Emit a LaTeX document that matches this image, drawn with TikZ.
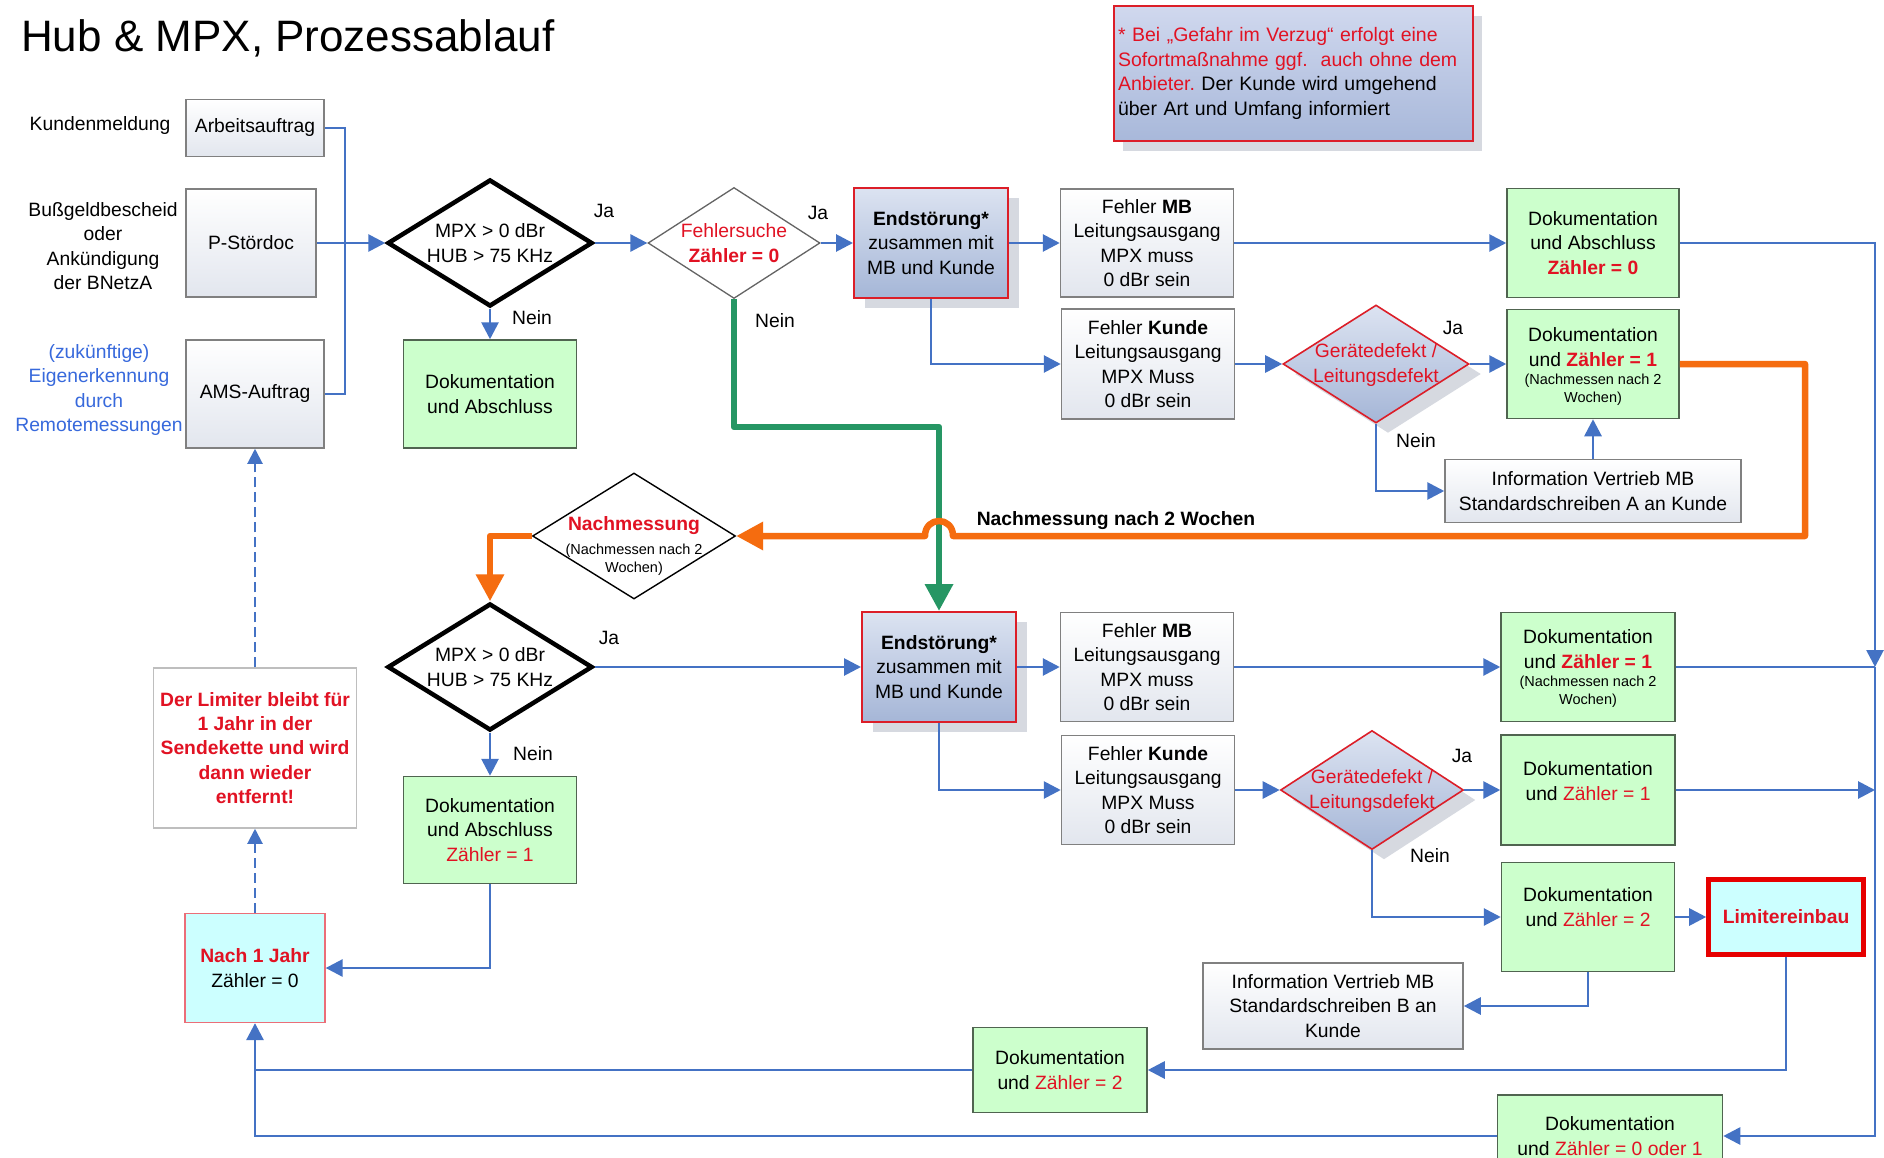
\documentclass[tikz,border=0pt]{standalone}
\usepackage{fontspec}
\setmainfont{Liberation Sans}
\usetikzlibrary{arrows.meta,shapes.geometric,shadows}
\frenchspacing
\definecolor{lblue}{RGB}{68,114,196}
\definecolor{lgreen}{RGB}{38,150,100}
\definecolor{lorange}{RGB}{245,108,15}
\definecolor{tred}{RGB}{225,18,35}
\definecolor{ered}{RGB}{220,30,40}
\definecolor{limred}{RGB}{230,0,0}
\definecolor{tblue}{RGB}{55,105,220}
\definecolor{gfill}{RGB}{204,255,204}
\definecolor{gdraw}{RGB}{80,100,80}
\definecolor{wdraw}{RGB}{128,128,128}
\definecolor{whitebot}{RGB}{226,230,238}
\definecolor{cfill}{RGB}{204,255,255}
\definecolor{bluetop}{RGB}{220,227,241}
\definecolor{bluebot}{RGB}{165,182,215}
\definecolor{nbtop}{RGB}{208,216,238}
\definecolor{nbbot}{RGB}{168,184,218}
\definecolor{shcol}{RGB}{214,217,224}
\definecolor{lgray}{RGB}{190,190,190}
\definecolor{pinkred}{RGB}{235,110,120}
\definecolor{dgray}{RGB}{100,100,100}
\begin{document}
\begin{tikzpicture}[x=1pt,y=-1pt,
  txt/.style={font=\fontsize{19.3}{24.4}\selectfont},
  smtxt/.style={font=\fontsize{14.5}{18.3}\selectfont},
  bftxt/.style={font=\fontsize{19.3}{24.4}\selectfont\bfseries},
  wbox/.style={draw=wdraw, line width=1.5pt, top color=white, bottom color=whitebot, inner sep=3pt, align=center, txt},
  gbox/.style={draw=gdraw, line width=1.5pt, fill=gfill, inner sep=3pt, align=center, txt},
  ebox/.style={draw=ered, line width=2pt, top color=bluetop, bottom color=bluebot, inner sep=3pt, align=center, txt, drop shadow={shadow xshift=11pt, shadow yshift=-10pt, fill=shcol, opacity=1}},
  dthick/.style={diamond, draw=black, line width=4.5pt, fill=white, inner sep=0pt},
  dthin/.style={diamond, draw=black, line width=1.4pt, fill=white, inner sep=0pt},
  dred/.style={diamond, draw=ered, line width=1.6pt, top color=bluetop, bottom color=bluebot, inner sep=0pt, drop shadow={shadow xshift=12pt, shadow yshift=-10pt, fill=shcol, opacity=1}},
  ln/.style={draw=lblue, line width=2.8pt},
  arr/.style={ln, -{Triangle[length=17pt,width=17pt]}},
  dsh/.style={draw=lblue, line width=2pt, dash pattern=on 10pt off 5pt, -{Triangle[length=15pt,width=15pt]}},
  oarr/.style={draw=lorange, line width=6.5pt, line join=round, -{Triangle[length=27pt,width=27pt]}},
  garr/.style={draw=lgreen, line width=6.5pt, line join=round, -{Triangle[length=27pt,width=27pt]}},
  lab/.style={txt, inner sep=0pt},
]
\useasboundingbox (0,0) rectangle (1884,1158);
\clip (0,0) rectangle (1884,1158);
\fill[white] (0,0) rectangle (1884,1158);

% title and note
\node[anchor=base west, inner sep=0pt, font=\fontsize{44}{53}\selectfont] (title) at (21,52) {Hub \& MPX, Prozessablauf};
\node[draw=ered, line width=2.4pt, top color=nbtop, bottom color=nbbot, minimum width=359pt, minimum height=135pt, text width=351pt, inner xsep=4pt, inner ysep=2pt, align=left, font=\fontsize{19.5}{24.4}\selectfont, drop shadow={shadow xshift=9pt, shadow yshift=-10pt, fill=shcol, opacity=1}] (note) at (1293.5,73.5) {\textcolor{tred}{* Bei „Gefahr im Verzug“ erfolgt eine}\\ \textcolor{tred}{Sofortmaßnahme ggf.\ \ auch ohne dem}\\ \textcolor{tred}{Anbieter.} Der Kunde wird umgehend\\ über Art und Umfang informiert};

% left inputs
\node[txt] (lk) at (100,126) {Kundenmeldung};
\node[txt, align=center] (lb) at (103,246) {Bußgeldbescheid\\oder\\Ankündigung\\der BNetzA};
\node[txt, align=center, text=tblue] (lz) at (99,390) {(zukünftige)\\Eigenerkennung\\durch\\Remotemessungen};
\node[wbox, minimum width=138pt, minimum height=57pt] (arb) at (255,128) {Arbeitsauftrag};
\node[wbox, minimum width=130pt, minimum height=108pt] (pst) at (251,243) {P-Stördoc};
\node[wbox, minimum width=138pt, minimum height=108pt] (ams) at (255,394) {AMS-Auftrag};

% row 1
\node[dthick, minimum width=205pt, minimum height=127pt] (d1) at (490,243) {};
\node[txt, align=center] (d1t) at (490,243) {MPX > 0 dBr\\HUB > 75 KHz};
\node[gbox, minimum width=173pt, minimum height=108pt] (dl1) at (490,394) {Dokumentation\\und Abschluss};
\node[diamond, draw=dgray, line width=1.3pt, fill=white, inner sep=0pt, minimum width=172pt, minimum height=111pt] (d2) at (734,243) {};
\node[txt, align=center, text=tred] (d2t) at (734,243) {Fehlersuche\\\textbf{Zähler = 0}};
\node[ebox, minimum width=154pt, minimum height=110pt] (e1) at (931,243) {\textbf{Endstörung*}\\zusammen mit\\MB und Kunde};
\node[wbox, minimum width=173pt, minimum height=108pt] (fm1) at (1147,243) {Fehler \textbf{MB}\\Leitungsausgang\\MPX muss\\0 dBr sein};
\node[wbox, minimum width=173pt, minimum height=110pt] (fk1) at (1148,364) {Fehler \textbf{Kunde}\\Leitungsausgang\\MPX Muss\\0 dBr sein};
\node[dred, minimum width=186pt, minimum height=118pt] (g1) at (1376,364) {};
\node[txt, align=center, text=tred] (g1t) at (1376,365) {Gerätedefekt /\\Leitungsdefekt};
\node[gbox, minimum width=172pt, minimum height=109pt] (dk0) at (1593,243) {Dokumentation\\und Abschluss\\\textcolor{tred}{\textbf{Zähler = 0}}};
\node[gbox, minimum width=172pt, minimum height=109pt] (dz1a) at (1593,364) {};
\node[txt, align=center] (dz1at) at (1593,347) {Dokumentation\\und \textcolor{tred}{\textbf{Zähler = 1}}};
\node[smtxt, align=center] (dz1as) at (1593,390) {(Nachmessen nach 2\\Wochen)};
\node[wbox, minimum width=296pt, minimum height=63pt] (ia) at (1593,491) {Information Vertrieb MB\\Standardschreiben A an Kunde};

% middle
\node[dthin, minimum width=203pt, minimum height=126pt] (nm) at (634,536) {};
\node[bftxt, text=tred] (nmt) at (634,526) {Nachmessung};
\node[smtxt, align=center] (nms) at (634,560) {(Nachmessen nach 2\\Wochen)};
\node[bftxt] (nml) at (1116,521) {Nachmessung nach 2 Wochen};

% row 3
\node[dthick, minimum width=205pt, minimum height=127pt] (d3) at (490,667) {};
\node[txt, align=center] (d3t) at (490,667) {MPX > 0 dBr\\HUB > 75 KHz};
\node[gbox, minimum width=173pt, minimum height=107pt] (dl2) at (490,830) {Dokumentation\\und Abschluss\\\textcolor{tred}{Zähler = 1}};
\node[draw=pinkred, line width=1.3pt, fill=cfill, minimum width=140pt, minimum height=109pt, align=center, txt] (n1j) at (255,968) {\textcolor{tred}{\textbf{Nach 1 Jahr}}\\Zähler = 0};
\node[draw=lgray, line width=1.5pt, fill=white, minimum width=203pt, minimum height=160pt, align=center, bftxt, text=tred] (lt) at (255,748) {Der Limiter bleibt für\\1 Jahr in der\\Sendekette und wird\\dann wieder\\entfernt!};
\node[ebox, minimum width=154pt, minimum height=110pt] (e2) at (939,667) {\textbf{Endstörung*}\\zusammen mit\\MB und Kunde};
\node[wbox, minimum width=173pt, minimum height=109pt] (fm2) at (1147,667) {Fehler \textbf{MB}\\Leitungsausgang\\MPX muss\\0 dBr sein};
\node[wbox, minimum width=173pt, minimum height=109pt] (fk2) at (1148,790) {Fehler \textbf{Kunde}\\Leitungsausgang\\MPX Muss\\0 dBr sein};
\node[dred, minimum width=183pt, minimum height=119pt] (g2) at (1372,790) {};
\node[txt, align=center, text=tred] (g2t) at (1372,791) {Gerätedefekt /\\Leitungsdefekt};
\node[gbox, minimum width=174pt, minimum height=109pt] (dz1b) at (1588,667) {};
\node[txt, align=center] (dz1bt) at (1588,649) {Dokumentation\\und \textcolor{tred}{\textbf{Zähler = 1}}};
\node[smtxt, align=center] (dz1bs) at (1588,692) {(Nachmessen nach 2\\Wochen)};
\node[gbox, minimum width=174pt, minimum height=110pt] (dz1c) at (1588,790) {};
\node[txt, align=center] (dz1ct) at (1588,781) {Dokumentation\\und \textcolor{tred}{Zähler = 1}};
\node[gbox, minimum width=173pt, minimum height=109pt] (dz2a) at (1588,917) {};
\node[txt, align=center] (dz2at) at (1588,907) {Dokumentation\\und \textcolor{tred}{Zähler = 2}};
\node[draw=limred, line width=4.6pt, fill=cfill, minimum width=155pt, minimum height=75pt, bftxt, text=tred] (lim) at (1786,917) {Limitereinbau};
\node[wbox, minimum width=260pt, minimum height=86pt] (ib) at (1333,1006) {Information Vertrieb MB\\Standardschreiben B an\\Kunde};
\node[gbox, minimum width=174pt, minimum height=85pt] (dz2b) at (1060,1070) {Dokumentation\\und \textcolor{tred}{Zähler = 2}};
\node[gbox, minimum width=225pt, minimum height=82pt] (d01) at (1610,1136) {Dokumentation\\und \textcolor{tred}{Zähler = 0 oder 1}};

% labels
\node[lab] (ja1) at (604,211) {Ja};
\node[lab] (ne1) at (532,318) {Nein};
\node[lab] (ja2) at (818,213) {Ja};
\node[lab] (ne2) at (775,321) {Nein};
\node[lab] (ja3) at (1453,328) {Ja};
\node[lab] (ne3) at (1416,441) {Nein};
\node[lab] (ja4) at (609,638) {Ja};
\node[lab] (ne4) at (533,754) {Nein};
\node[lab] (ja5) at (1462,756) {Ja};
\node[lab] (ne5) at (1430,856) {Nein};

% junctions
\coordinate (jr0) at (1875,243);
\coordinate (jr1) at (1875,667);
\coordinate (jr2) at (1875,790);
\coordinate (jr3) at (1875,1136);
\coordinate (jl1) at (255,1070);
\coordinate (jl2) at (255,1136);

% connectors
\draw[ln] (arb.east) -| (345,394) -- (ams.east);
\draw[arr] (pst.east) -- (d1.west);
\draw[arr] (d1.south) -- (dl1.north);
\draw[arr] (d1.east) -- (d2.west);
\draw[arr] (d2.east) -- (e1.west);
\draw[arr] (e1.east) -- (fm1.west);
\draw[arr] (e1.south) |- (fk1.west);
\draw[arr] (fm1.east) -- (dk0.west);
\draw[arr] (fk1.east) -- (g1.west);
\draw[arr] (g1.east) -- (dz1a.west);
\draw[arr] (g1.south) |- (ia.west);
\draw[arr] (ia.north) -- (dz1a.south);
\draw[arr] (dk0.east) -- (jr0) -- (jr1);
\draw[ln] (dz1b.east) -- (jr1);
\draw[arr] (jr1) -- (jr3) -- (d01.east);
\draw[arr] (dz1c.east) -- (jr2);
\draw[arr] (d3.east) -- (e2.west);
\draw[arr] (d3.south) -- (dl2.north);
\draw[arr] (dl2.south) |- (n1j.east);
\draw[arr] (e2.east) -- (fm2.west);
\draw[arr] (e2.south) |- (fk2.west);
\draw[arr] (fm2.east) -- (dz1b.west);
\draw[arr] (fk2.east) -- (g2.west);
\draw[arr] (g2.east) -- (dz1c.west);
\draw[arr] (g2.south) |- (dz2a.west);
\draw[arr] (dz2a.east) -- (lim.west);
\draw[arr] (dz2a.south) |- (ib.east);
\draw[arr] (lim.south) |- (dz2b.east);
\draw[ln] (dz2b.west) -- (jl1);
\draw[arr] (d01.west) -- (jl2) -- (n1j.south);
\draw[dsh] (n1j.north) -- (lt.south);
\draw[dsh] (lt.north) -- (ams.south);
\draw[garr] (d2.south) -- (734,427) -- (939,427) -- (e2.north);
\draw[oarr] (dz1a.east) -- (1805,364) -- (1805,536) -- (953,536) .. controls (953,516) and (925,516) .. (925,536) -- (nm.east);
\draw[oarr] (nm.west) -- (490,536) -- (d3.north);
\end{tikzpicture}
\end{document}
